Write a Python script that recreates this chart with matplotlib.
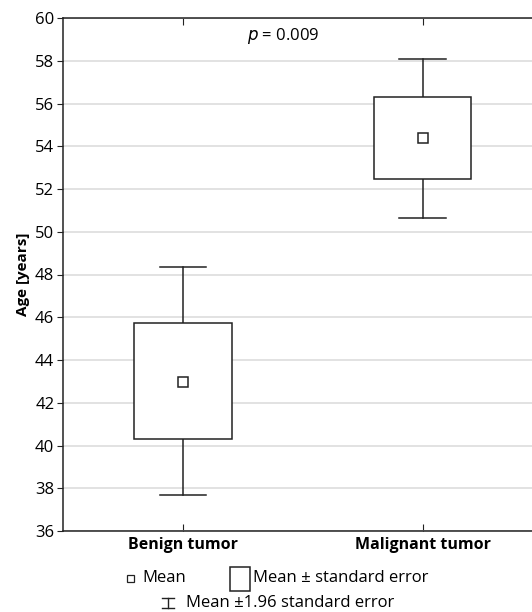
import matplotlib.pyplot as plt
from matplotlib.patches import Rectangle
from matplotlib.lines import Line2D

plt.rcParams['font.family'] = ['Open Sans', 'DejaVu Sans']

groups = ["Benign tumor", "Malignant tumor"]
means = [42.98, 54.39]
se_low = [40.29, 52.47]
se_high = [45.73, 56.32]
ci_low = [37.68, 50.66]
ci_high = [48.37, 58.08]
yticks = [36, 38, 40, 42, 44, 46, 48, 50, 52, 54, 56, 58, 60]

W, H = 532, 612
fig = plt.figure(figsize=(W / 100, H / 100), dpi=100)
ax = fig.add_axes([62.7 / W, 1 - 531 / H, (W - 62.7) / W, (531 - 18) / H])

box_w = 0.405
cap_w = 0.195
for i in range(len(groups)):
    # whiskers (mean +/- 1.96 SE)
    ax.plot([i, i], [se_high[i], ci_high[i]], color="#222222", lw=1.1, zorder=3)
    ax.plot([i, i], [ci_low[i], se_low[i]], color="#222222", lw=1.1, zorder=3)
    ax.plot([i - cap_w / 2, i + cap_w / 2], [ci_high[i]] * 2, color="#222222", lw=1.1, zorder=3)
    ax.plot([i - cap_w / 2, i + cap_w / 2], [ci_low[i]] * 2, color="#222222", lw=1.1, zorder=3)
    # box (mean +/- SE)
    ax.add_patch(Rectangle((i - box_w / 2, se_low[i]), box_w, se_high[i] - se_low[i],
                           facecolor="white", edgecolor="#222222", lw=1.1, zorder=4))
    ax.plot(i, means[i], marker="s", ms=6.5, mfc="white", mec="#222222", mew=1.1, zorder=5)

ax.set_xlim(-0.502, 1.456)
ax.set_ylim(36, 60)
ax.set_yticks(yticks)
ax.set_xticks(range(len(groups)))
ax.set_xticklabels(groups, fontweight="bold", fontsize=11.5)
ax.tick_params(axis="y", direction="out", length=4, labelsize=12, pad=2, color="#222222")
ax.tick_params(axis="x", direction="in", length=5, top=True, pad=4, color="#222222")
ax.grid(axis="y", color="#dddddd", lw=1.2, zorder=0)
ax.set_axisbelow(True)
ax.spines["right"].set_visible(False)
for s in ["left", "bottom", "top"]:
    ax.spines[s].set_linewidth(1.1)
    ax.spines[s].set_color("#222222")
ax.set_ylabel("Age [years]", fontweight="bold", fontsize=11, labelpad=4)

ax.text(0.417, 59.15, "$p$ = 0.009", ha="center", va="center", fontsize=12)

# legend drawn in figure pixels
def fx(x):
    return x / W

def fy(y):
    return 1 - y / H

fig.add_artist(Rectangle((fx(127), fy(582)), 7 / W, 7 / H, transform=fig.transFigure,
                         facecolor="white", edgecolor="#222222", lw=0.9))
fig.text(fx(142), fy(578), "Mean", fontsize=12, va="center")
fig.add_artist(Rectangle((fx(230), fy(591)), 20 / W, 24 / H, transform=fig.transFigure,
                         facecolor="white", edgecolor="#222222", lw=1.1))
fig.text(fx(253), fy(578), "Mean ± standard error", fontsize=12, va="center")
for seg in [([162, 174], [598, 598]), ([162, 174], [608, 608]), ([168, 168], [598, 608])]:
    fig.add_artist(Line2D([fx(v) for v in seg[0]], [fy(v) for v in seg[1]],
                          transform=fig.transFigure, color="#222222", lw=1.0))
fig.text(fx(186), fy(603), "Mean ±1.96 standard error", fontsize=12, va="center")

fig.savefig("out.png", dpi=100)
